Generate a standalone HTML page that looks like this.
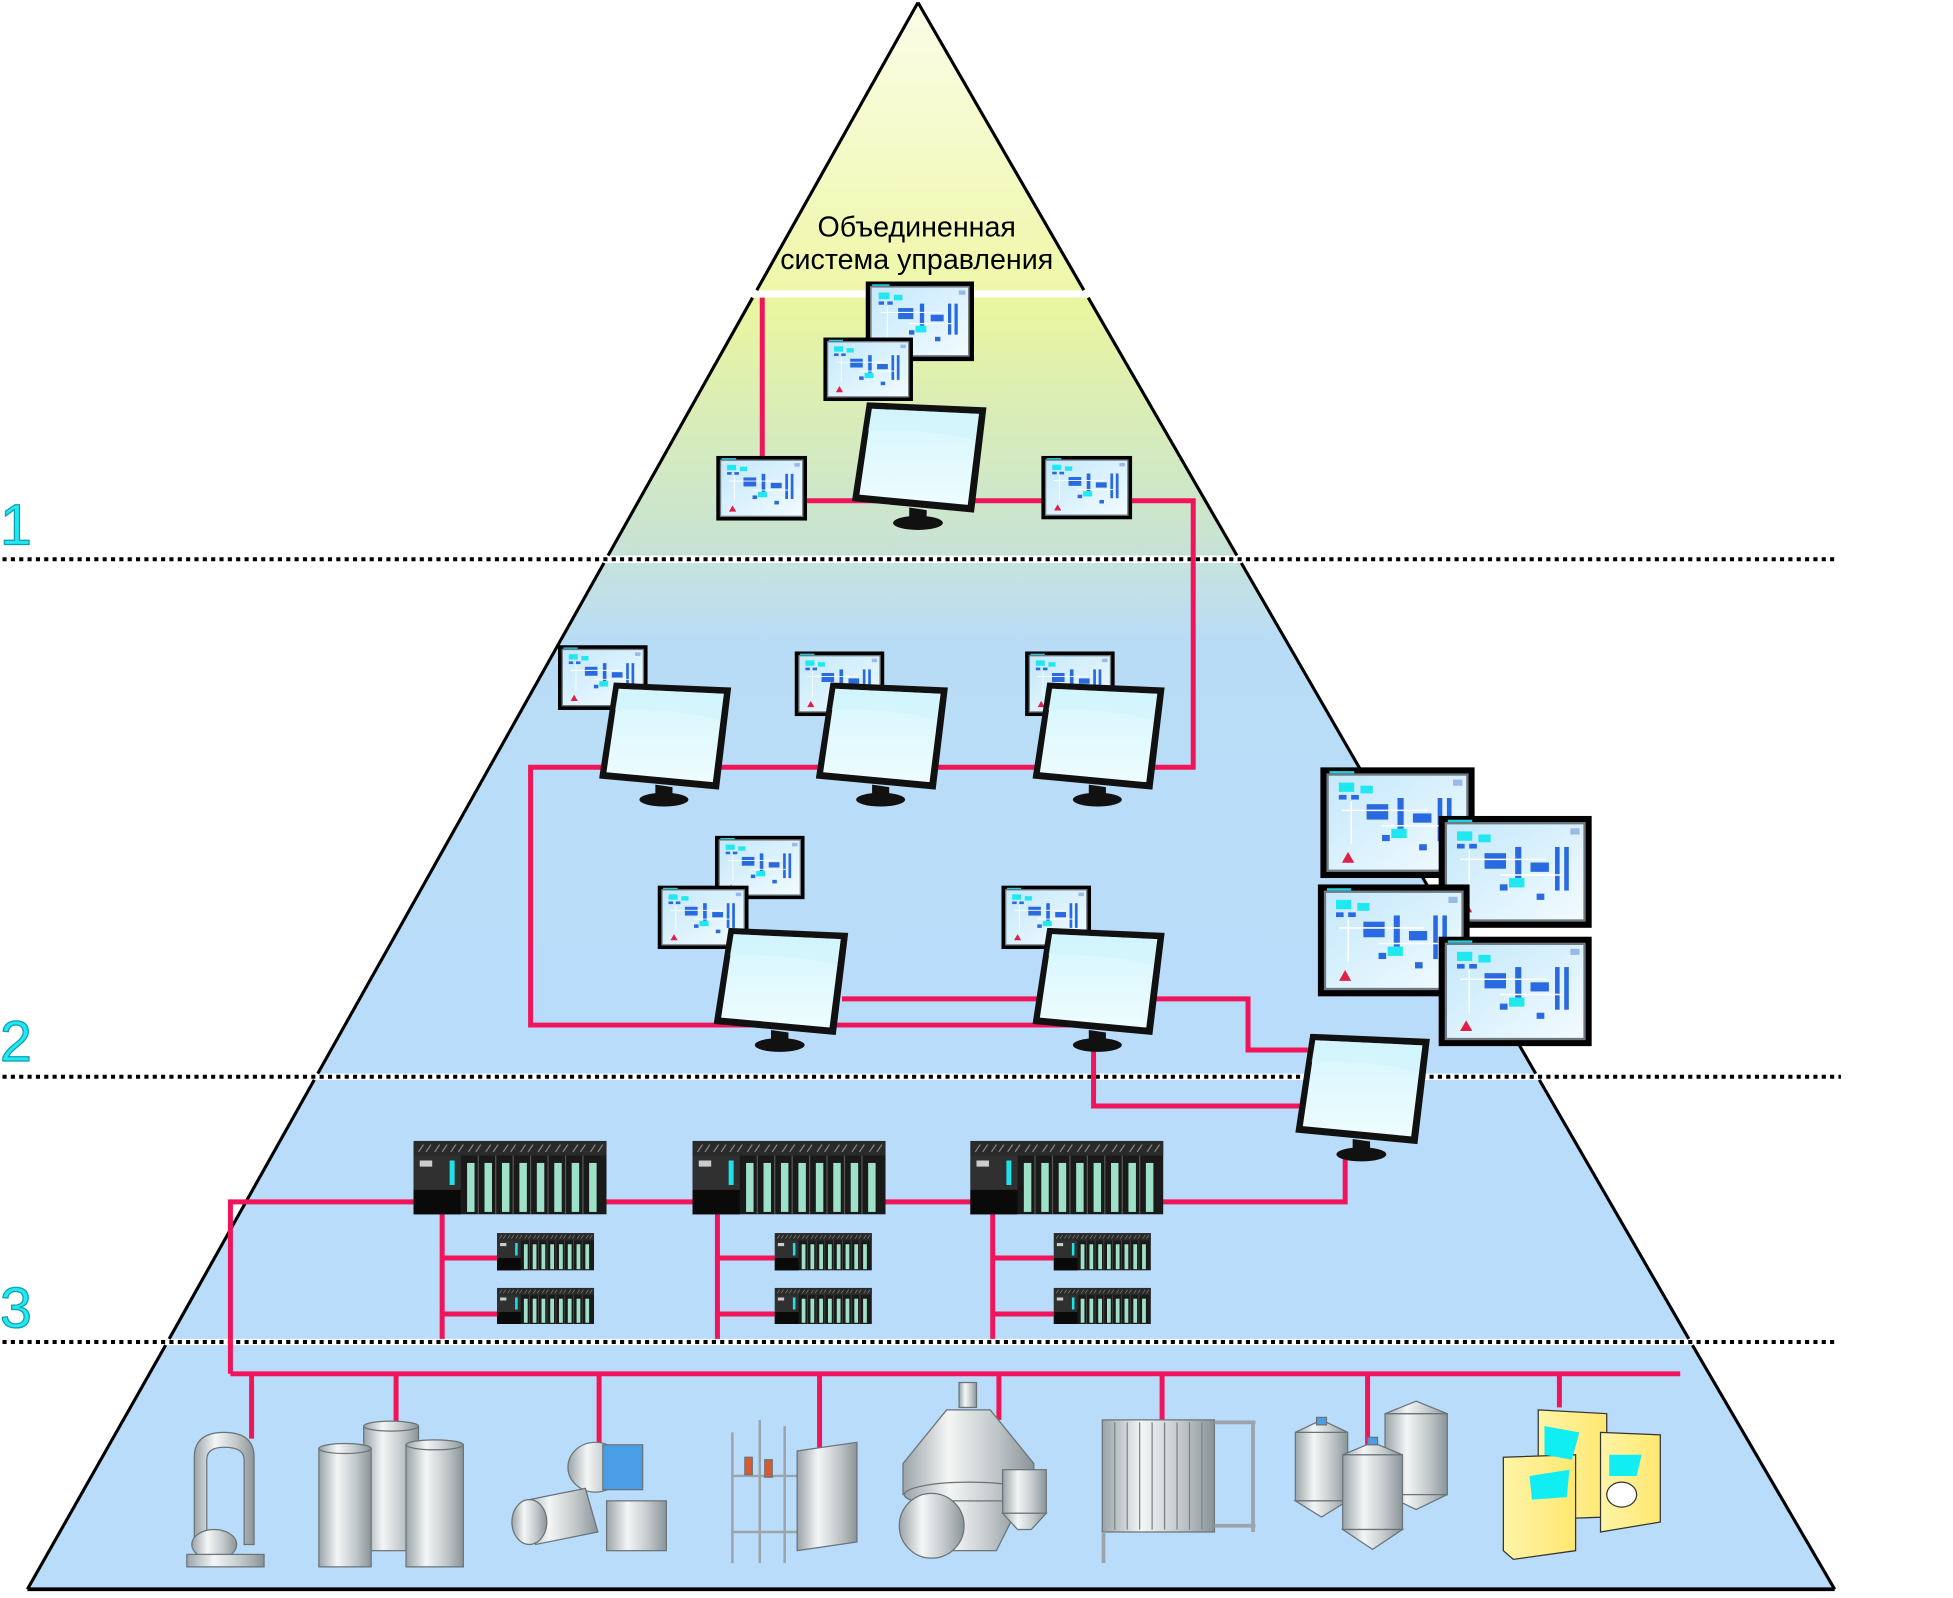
<!DOCTYPE html>
<html><head><meta charset="utf-8"><style>html,body{margin:0;padding:0;background:#fff}svg{display:block}</style></head>
<body>
<svg width="1953" height="1598" viewBox="0 0 1568 1283" preserveAspectRatio="none" xmlns="http://www.w3.org/2000/svg">
<defs>
<linearGradient id="gTop" x1="0" y1="0" x2="0" y2="1"><stop offset="0" stop-color="#fbfde8"/><stop offset="1" stop-color="#eef7a8"/></linearGradient>
<linearGradient id="g1" x1="0" y1="0" x2="0" y2="1"><stop offset="0" stop-color="#eaf69e"/><stop offset="1" stop-color="#c6e2d6"/></linearGradient>
<linearGradient id="g2" x1="0" y1="0" x2="0" y2="1"><stop offset="0" stop-color="#c6e2de"/><stop offset="0.15" stop-color="#b9dcf6"/><stop offset="1" stop-color="#b9dcfb"/></linearGradient>
<linearGradient id="gScr" x1="0" y1="0" x2="1" y2="1"><stop offset="0" stop-color="#c4e8fb"/><stop offset="1" stop-color="#f2fbff"/></linearGradient>
<linearGradient id="gMon" x1="0" y1="0" x2="0" y2="1"><stop offset="0" stop-color="#d4f6fc"/><stop offset="1" stop-color="#eefcff"/></linearGradient>
<linearGradient id="gMet" x1="0" y1="0" x2="1" y2="0"><stop offset="0" stop-color="#9aa4a8"/><stop offset="0.35" stop-color="#f4f6f6"/><stop offset="0.7" stop-color="#c2c8ca"/><stop offset="1" stop-color="#8a9498"/></linearGradient>
<linearGradient id="gMilk" x1="0" y1="0" x2="1" y2="0"><stop offset="0" stop-color="#fff4a8"/><stop offset="1" stop-color="#ffe870"/></linearGradient>
<symbol id="scr" viewBox="0 0 100 72" preserveAspectRatio="none">
<rect x="0" y="0" width="100" height="72" fill="#000"/>
<rect x="4" y="4" width="92" height="64" fill="#6f7a80"/>
<rect x="5.5" y="5.5" width="89" height="61" fill="url(#gScr)"/>
<rect x="6" y="2.5" width="16" height="1.5" fill="#20d0e0"/>
<rect x="86" y="8" width="6" height="4" fill="#9ab8e8"/>
<g fill="#2a6ae0"><rect x="12" y="18" width="5" height="3"/><rect x="20" y="18" width="5" height="3"/><rect x="30" y="24" width="14" height="10"/><rect x="50" y="20" width="4" height="20"/><rect x="60" y="30" width="12" height="6"/><rect x="76" y="20" width="3" height="28"/><rect x="82" y="20" width="3" height="28"/><rect x="40" y="44" width="5" height="4"/><rect x="64" y="50" width="5" height="4"/></g>
<g fill="#20e8f0"><rect x="12" y="10" width="10" height="6"/><rect x="26" y="12" width="8" height="5"/><rect x="46" y="40" width="10" height="6"/></g>
<g stroke="#fff" stroke-width="1"><line x1="14" y1="28" x2="70" y2="28"/><line x1="20" y1="22" x2="20" y2="50"/><line x1="40" y1="38" x2="80" y2="38"/></g>
<polygon points="14,62 18,55 22,62" fill="#e0204a"/>
</symbol>
<symbol id="mon" viewBox="0 0 110 100" preserveAspectRatio="none">
<polygon points="12,0 108,4 98,86 0,77" fill="#111"/>
<polygon points="16,5 102,9 93,80 6,72" fill="url(#gMon)"/>
<path d="M16,5 L102,9 L99,30 Q60,20 13,22 Z" fill="#d0f4fb" opacity="0.6"/>
<polygon points="46,82 60,84 60,92 46,92" fill="#111"/>
<ellipse cx="53" cy="94" rx="20" ry="5.5" fill="#111"/>
</symbol>
<symbol id="plc" viewBox="0 0 155 60" preserveAspectRatio="none">
<rect x="0" y="0" width="155" height="60" fill="#1a1a1a"/>
<rect x="0" y="0" width="155" height="12" fill="#2a2a2a"/>
<g stroke="#888" stroke-width="1"><path d="M4,9 l4,-6 M10,9 l4,-6 M17,9 l4,-6 M23,9 l4,-6 M30,9 l4,-6 M36,9 l4,-6 M44,9 l4,-6 M50,9 l4,-6 M58,9 l4,-6 M64,9 l4,-6 M72,9 l4,-6 M78,9 l4,-6 M86,9 l4,-6 M92,9 l4,-6 M100,9 l4,-6 M106,9 l4,-6 M114,9 l4,-6 M120,9 l4,-6 M128,9 l4,-6 M134,9 l4,-6 M142,9 l4,-6 M148,9 l4,-6"/></g>
<rect x="0" y="12" width="38" height="48" fill="#303030"/>
<rect x="0" y="40" width="38" height="20" fill="#0a0a0a"/>
<rect x="5" y="16" width="10" height="5" fill="#ccc"/>
<rect x="29" y="16" width="4" height="20" fill="#20e0e8"/>
<g fill="#9fe0c8"><rect x="43" y="18" width="6" height="40"/><rect x="57" y="18" width="6" height="40"/><rect x="71" y="18" width="6" height="40"/><rect x="85" y="18" width="6" height="40"/><rect x="99" y="18" width="6" height="40"/><rect x="113" y="18" width="6" height="40"/><rect x="127" y="18" width="6" height="40"/><rect x="141" y="18" width="6" height="40"/></g>
<g stroke="#555" stroke-width="1"><line x1="52" y1="12" x2="52" y2="60"/><line x1="66" y1="12" x2="66" y2="60"/><line x1="80" y1="12" x2="80" y2="60"/><line x1="94" y1="12" x2="94" y2="60"/><line x1="108" y1="12" x2="108" y2="60"/><line x1="122" y1="12" x2="122" y2="60"/><line x1="136" y1="12" x2="136" y2="60"/></g>
</symbol>
</defs>

<!-- pyramid bands -->
<polygon points="737,2 607.6,233 870.2,233" fill="url(#gTop)"/>
<polygon points="604.2,239 873.7,239 993.1,446 488.2,446" fill="url(#g1)"/>
<polygon points="484.9,452 996.6,452 1233,862 255.1,862" fill="url(#g2)"/>
<polygon points="252.3,867 1235.9,867 1355.9,1075 135.8,1075" fill="#b9dcfb"/>
<polygon points="133,1080 1358.8,1080 1473,1276 22,1276" fill="#b9dcfb"/>
<g stroke="#000" stroke-width="2.5" fill="none">
<line x1="737" y1="2" x2="607.6" y2="233"/><line x1="737" y1="2" x2="870.2" y2="233"/>
<line x1="604.2" y1="239" x2="488.2" y2="446"/><line x1="873.7" y1="239" x2="993.1" y2="446"/>
<line x1="484.9" y1="452" x2="255.1" y2="862"/><line x1="996.6" y1="452" x2="1233" y2="862"/>
<line x1="252.3" y1="867" x2="135.8" y2="1075"/><line x1="1235.9" y1="867" x2="1355.9" y2="1075"/>
<line x1="133" y1="1080" x2="22" y2="1276"/><line x1="1358.8" y1="1080" x2="1473" y2="1276"/>
<line x1="22" y1="1276" x2="1473" y2="1276" stroke-width="3"/>
</g>
<g stroke="#000" stroke-width="3.2" stroke-dasharray="3.3,3.4">
<line x1="2" y1="449" x2="1473" y2="449"/>
<line x1="2" y1="864.5" x2="1478" y2="864.5"/>
<line x1="2" y1="1077.5" x2="1473" y2="1077.5"/>
</g>

<text x="736" y="190" font-family="Liberation Sans, DejaVu Sans, sans-serif" font-size="23" text-anchor="middle" fill="#000">Объединенная</text>
<text x="736" y="216" font-family="Liberation Sans, DejaVu Sans, sans-serif" font-size="23" text-anchor="middle" fill="#000">система управления</text>

<g font-family="Liberation Sans, DejaVu Sans, sans-serif" font-size="46" fill="#22e8f4" stroke="#0aa0b0" stroke-width="1">
<text x="0" y="437">1</text><text x="0" y="852">2</text><text x="0" y="1066">3</text>
</g>

<!-- red network -->
<g stroke="#f0145a" stroke-width="4" fill="none" stroke-linejoin="miter">
<polyline points="612,239 612,368"/>
<polyline points="648,402 958,402 958,616 426,616 426,823 880,823"/>
<polyline points="676,802 1002,802 1002,843 1050,843"/>
<polyline points="878,840 878,888 1045,888"/>
<polyline points="185,1103 185,965 1080,965 1080,925"/>
<polyline points="185,1103 1349,1103"/>
<g><line x1="202" y1="1103" x2="202" y2="1155"/><line x1="318" y1="1103" x2="318" y2="1145"/><line x1="481" y1="1103" x2="481" y2="1165"/><line x1="658" y1="1103" x2="658" y2="1170"/><line x1="802" y1="1103" x2="802" y2="1140"/><line x1="933" y1="1103" x2="933" y2="1140"/><line x1="1098" y1="1103" x2="1098" y2="1160"/><line x1="1252" y1="1103" x2="1252" y2="1130"/></g>
<polyline points="355,975 355,1075"/><polyline points="355,1010 400,1010"/><polyline points="355,1055 400,1055"/>
<polyline points="576,975 576,1075"/><polyline points="576,1010 622,1010"/><polyline points="576,1055 622,1055"/>
<polyline points="797,975 797,1075"/><polyline points="797,1010 846,1010"/><polyline points="797,1055 846,1055"/>
</g>

<!-- level 1 -->
<use href="#scr" x="695" y="226" width="87" height="64"/>
<use href="#scr" x="661" y="271" width="72" height="51"/>
<use href="#scr" x="575" y="366" width="73" height="52"/>
<use href="#scr" x="836" y="366" width="73" height="51"/>
<use href="#mon" x="684" y="323" width="110" height="103"/>

<!-- level 2 -->
<use href="#scr" x="448" y="518" width="72" height="52"/>
<use href="#scr" x="638" y="523" width="72" height="52"/>
<use href="#scr" x="823" y="523" width="72" height="52"/>
<use href="#mon" x="481" y="548" width="108" height="100"/>
<use href="#mon" x="655" y="548" width="108" height="100"/>
<use href="#mon" x="829" y="548" width="108" height="100"/>
<use href="#scr" x="574" y="671" width="72" height="51"/>
<use href="#scr" x="528" y="711" width="73" height="51"/>
<use href="#scr" x="804" y="711" width="72" height="51"/>
<use href="#mon" x="573" y="745" width="110" height="100"/>
<use href="#mon" x="829" y="745" width="108" height="100"/>

<use href="#scr" x="1060" y="616" width="124" height="89"/>
<use href="#scr" x="1155" y="655" width="123" height="90"/>
<use href="#scr" x="1058" y="710" width="122" height="90"/>
<use href="#scr" x="1155" y="752" width="123" height="88"/>
<use href="#mon" x="1040" y="830" width="110" height="103"/>

<!-- level 3 PLCs -->
<use href="#plc" x="332" y="916" width="155" height="59"/>
<use href="#plc" x="556" y="916" width="155" height="59"/>
<use href="#plc" x="779" y="916" width="155" height="59"/>
<use href="#plc" x="399" y="990" width="78" height="30"/>
<use href="#plc" x="399" y="1034" width="78" height="29"/>
<use href="#plc" x="622" y="990" width="78" height="30"/>
<use href="#plc" x="622" y="1034" width="78" height="29"/>
<use href="#plc" x="846" y="990" width="78" height="30"/>
<use href="#plc" x="846" y="1034" width="78" height="29"/>

<!-- equipment -->
<g stroke="#6a7478" stroke-width="1" fill="url(#gMet)">
<!-- U pipe -->
<path d="M156,1240 L156,1170 Q156,1150 180,1150 Q204,1150 204,1170 L204,1240 L196,1240 L196,1172 Q196,1162 180,1162 Q166,1162 166,1172 L166,1240 Z"/>
<ellipse cx="172" cy="1240" rx="18" ry="12"/>
<rect x="150" y="1248" width="62" height="10"/>
<!-- tanks -->
<rect x="292" y="1145" width="44" height="100"/>
<rect x="256" y="1163" width="42" height="95"/>
<rect x="326" y="1160" width="46" height="98"/>
<ellipse cx="277" cy="1163" rx="21" ry="4"/><ellipse cx="349" cy="1160" rx="23" ry="4"/><ellipse cx="314" cy="1145" rx="22" ry="4"/>
<!-- pumps -->
<ellipse cx="478" cy="1178" rx="22" ry="20"/>
<rect x="484" y="1160" width="32" height="36" fill="#4a9ee8"/>
<path d="M420,1205 L470,1195 L480,1230 L430,1240 Z"/>
<ellipse cx="425" cy="1222" rx="14" ry="18"/>
<rect x="487" y="1205" width="48" height="40"/>
<!-- frame -->
<g fill="none" stroke="#9aa4aa" stroke-width="2"><line x1="588" y1="1150" x2="588" y2="1255"/><line x1="610" y1="1140" x2="610" y2="1255"/><line x1="630" y1="1145" x2="630" y2="1255"/><line x1="588" y1="1185" x2="640" y2="1185"/><line x1="588" y1="1230" x2="640" y2="1230"/></g>
<polygon points="640,1165 688,1158 688,1238 640,1245"/>
<rect x="598" y="1170" width="6" height="14" fill="#d85a30"/><rect x="614" y="1172" width="6" height="14" fill="#d85a30"/>
<!-- separator -->
<rect x="770" y="1110" width="14" height="20"/>
<polygon points="760,1132 795,1132 830,1175 830,1200 725,1200 725,1175"/>
<ellipse cx="778" cy="1200" rx="52" ry="10"/>
<polygon points="735,1205 820,1205 800,1245 760,1245"/>
<ellipse cx="748" cy="1225" rx="26" ry="26"/>
<rect x="805" y="1180" width="35" height="35"/><polygon points="805,1215 840,1215 828,1228 817,1228"/>
<!-- heat exchanger -->
<rect x="885" y="1140" width="90" height="90"/>
<g stroke="#7a8488"><line x1="895" y1="1142" x2="895" y2="1228"/><line x1="905" y1="1142" x2="905" y2="1228"/><line x1="915" y1="1142" x2="915" y2="1228"/><line x1="925" y1="1142" x2="925" y2="1228"/><line x1="935" y1="1142" x2="935" y2="1228"/><line x1="945" y1="1142" x2="945" y2="1228"/><line x1="955" y1="1142" x2="955" y2="1228"/><line x1="965" y1="1142" x2="965" y2="1228"/></g>
<g fill="none" stroke="#9aa4aa" stroke-width="3"><line x1="975" y1="1142" x2="1008" y2="1142"/><line x1="975" y1="1225" x2="1008" y2="1225"/><line x1="1006" y1="1142" x2="1006" y2="1230"/><line x1="886" y1="1230" x2="886" y2="1255"/></g>
<!-- tanks with agitators -->
<rect x="1112" y="1135" width="50" height="65"/><polygon points="1112,1135 1137,1125 1162,1135"/><polygon points="1112,1200 1162,1200 1137,1212"/>
<rect x="1040" y="1150" width="42" height="55"/><polygon points="1040,1150 1061,1140 1082,1150"/><polygon points="1040,1205 1082,1205 1061,1218"/>
<rect x="1078" y="1168" width="48" height="60"/><polygon points="1078,1168 1102,1158 1126,1168"/><polygon points="1078,1228 1126,1228 1102,1244"/>
<rect x="1057" y="1138" width="8" height="6" fill="#4a9ee8"/><rect x="1098" y="1154" width="8" height="6" fill="#4a9ee8"/>
</g>
<!-- milk cartons -->
<g stroke="#333" stroke-width="1">
<polygon points="1235,1132 1290,1135 1290,1218 1235,1220" fill="url(#gMilk)"/>
<polygon points="1285,1150 1333,1152 1333,1222 1285,1230" fill="url(#gMilk)"/>
<polygon points="1207,1170 1265,1168 1265,1245 1215,1252 1207,1245" fill="url(#gMilk)"/>
<g fill="#10eef4" stroke="none"><polygon points="1240,1145 1268,1150 1262,1172 1240,1168"/><polygon points="1292,1168 1318,1168 1314,1185 1292,1185"/><polygon points="1228,1185 1260,1180 1258,1202 1230,1204"/></g>
<ellipse cx="1302" cy="1200" rx="12" ry="10" fill="#fff"/>
</g>
</svg>
</body></html>
